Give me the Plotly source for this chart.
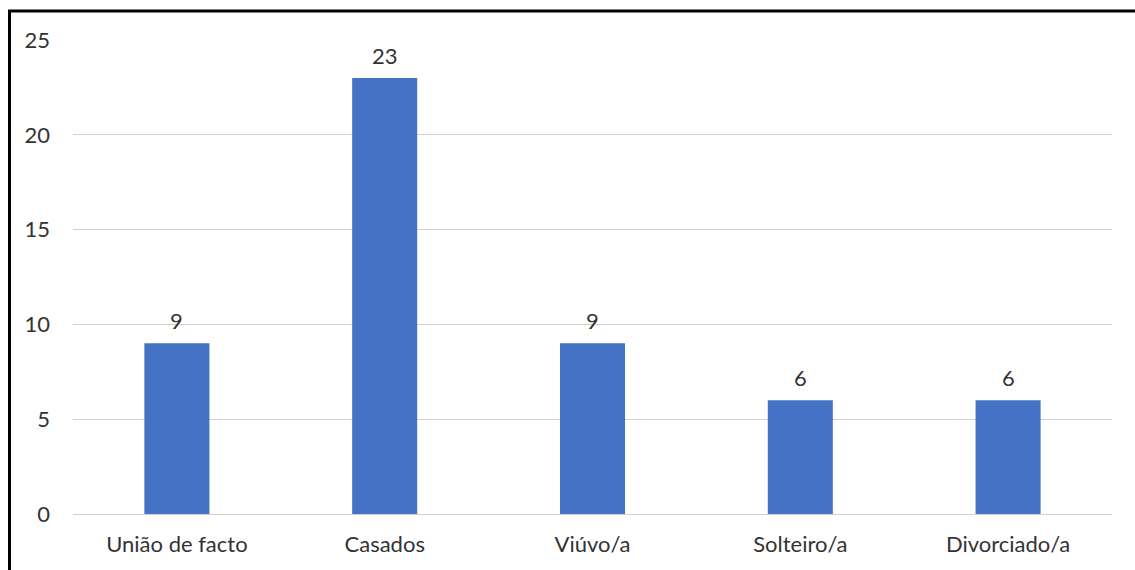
import plotly.graph_objects as go

categories = ["União de facto", "Casados", "Viúvo/a", "Solteiro/a", "Divorciado/a"]
values = [9, 23, 9, 6, 6]
y_ticks = [0, 5, 10, 15, 20, 25]

W, H = 1135, 570
ml, mr, mt, mb = 73, 23, 40, 56
pw, ph = W - ml - mr, H - mt - mb

font_family = "Lato, 'Open Sans', sans-serif"
font_size = 22
text_color = "#333333"

fig = go.Figure(
    go.Bar(
        x=categories,
        y=values,
        marker=dict(color="#4472C4", line=dict(width=0)),
        hoverinfo="x+y",
    )
)

# value labels above each bar
for cat, val in zip(categories, values):
    fig.add_annotation(
        x=cat, y=val, xref="x", yref="y",
        text=str(val), showarrow=False,
        yanchor="bottom", yshift=7,
        font=dict(family=font_family, size=font_size, color=text_color),
    )

# outer frame (top and left edges visible, the rest runs off the canvas)
def px_x(p):
    return (p - ml) / pw

def px_y(p):
    return (H - mb - p) / ph

fig.add_shape(
    type="rect", xref="paper", yref="paper",
    x0=px_x(9.5), x1=px_x(1145), y0=px_y(11), y1=px_y(580),
    line=dict(color="black", width=3), fillcolor="rgba(0,0,0,0)", layer="above",
)

fig.update_layout(
    width=W, height=H,
    margin=dict(l=ml, r=mr, t=mt, b=mb, pad=0),
    paper_bgcolor="white", plot_bgcolor="white",
    bargap=0.687,
    showlegend=False,
    font=dict(family=font_family, size=font_size, color=text_color),
    xaxis=dict(
        showgrid=False, showline=False, zeroline=False,
        ticks="", ticklabelstandoff=15,
        tickfont=dict(family=font_family, size=font_size, color=text_color),
    ),
    yaxis=dict(
        range=[0, 25], tickvals=y_ticks,
        showgrid=True, gridcolor="#d0d0d0", gridwidth=1,
        zeroline=True, zerolinecolor="#d0d0d0", zerolinewidth=1,
        showline=False, ticks="", ticklabelstandoff=22,
        tickfont=dict(family=font_family, size=font_size, color=text_color),
    ),
)

fig.write_html("out.html")
